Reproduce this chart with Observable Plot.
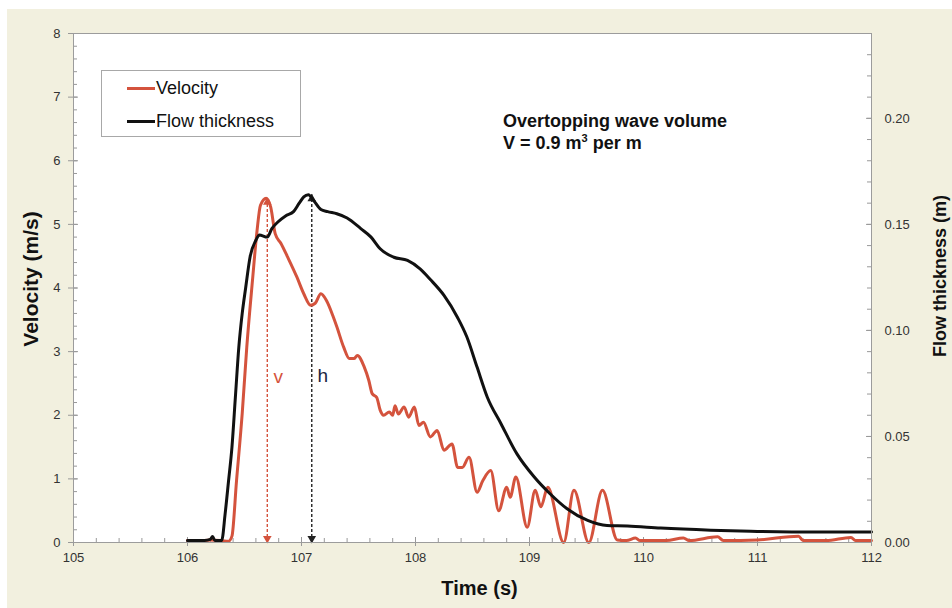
<!DOCTYPE html>
<html><head><meta charset="utf-8">
<script src="https://cdn.jsdelivr.net/npm/d3@7"></script>
<script src="https://cdn.jsdelivr.net/npm/@observablehq/plot@0.6"></script>
<style>
body{margin:0;background:#fff;font-family:"Liberation Sans",Arial,sans-serif;}
#wrap{position:relative;width:952px;height:608px;overflow:hidden}
#bg{position:absolute;left:7px;top:9px;right:0;bottom:0;background:#f2f0df}
#chart{position:absolute;left:0;top:0}
#legend{position:absolute;left:101px;top:70px;width:198px;height:65px;border:1px solid #a8a8a8;background:#fff;font-size:18px;color:#111}
#legend .row{position:absolute;left:25px;height:20px;line-height:20px;white-space:nowrap}
#legend .sw{display:inline-block;width:28px;height:3px;vertical-align:middle;margin-right:1px;position:relative;top:-1px}
#note{position:absolute;left:503px;top:110px;font-weight:bold;font-size:18px;line-height:22px;color:#111;white-space:nowrap}
</style></head>
<body>
<div id="wrap"><div id="bg"></div><div id="chart"></div>
<div id="legend">
 <div class="row" style="top:7px"><span class="sw" style="background:#d4533d"></span>Velocity</div>
 <div class="row" style="top:40px"><span class="sw" style="background:#111"></span>Flow thickness</div>
</div>
<div id="note">Overtopping wave volume<br>V = 0.9 m<sup style="font-size:11px;vertical-align:7px;line-height:0">3</sup> per m</div>
</div>
<script>
// Velocity record (s, m/s)
const timeV = [106.00,106.10,106.20,106.30,106.36,106.39,106.43,106.48,106.52,106.57,106.61,106.64,106.69,106.73,106.77,106.82,106.88,106.96,107.02,107.08,107.12,107.17,107.22,107.28,107.31,107.37,107.42,107.46,107.49,107.55,107.59,107.62,107.66,107.69,107.72,107.77,107.80,107.82,107.85,107.90,107.94,107.99,108.03,108.07,108.13,108.19,108.25,108.32,108.37,108.41,108.47,108.54,108.59,108.66,108.73,108.80,108.83,108.88,108.98,109.05,109.10,109.16,109.30,109.39,109.52,109.64,109.77,109.85,109.93,109.97,110.20,110.35,110.40,110.65,110.70,111.00,111.36,111.40,111.60,111.82,111.86,112.00];
const velocity = [0.03,0.02,0.04,0.03,0.02,0.10,0.97,2.03,3.07,4.12,4.90,5.30,5.41,5.27,4.85,4.70,4.48,4.17,3.91,3.73,3.76,3.91,3.80,3.54,3.39,3.07,2.89,2.89,2.94,2.76,2.55,2.34,2.28,2.08,2.00,2.05,2.00,2.15,2.02,2.13,1.97,2.13,1.84,1.89,1.66,1.76,1.45,1.55,1.18,1.18,1.34,0.79,0.97,1.13,0.50,0.87,0.71,1.03,0.24,0.82,0.56,0.87,0.00,0.82,0.00,0.82,0.04,0.03,0.07,0.03,0.03,0.07,0.03,0.09,0.03,0.04,0.10,0.03,0.03,0.08,0.03,0.03];
// Flow thickness record (s, m)
const timeH = [106.00,106.15,106.20,106.22,106.24,106.30,106.33,106.36,106.39,106.42,106.45,106.48,106.51,106.55,106.60,106.63,106.70,106.74,106.79,106.86,106.93,106.98,107.02,107.06,107.11,107.17,107.23,107.31,107.40,107.52,107.61,107.69,107.81,107.93,108.04,108.13,108.25,108.37,108.45,108.54,108.63,108.75,108.89,109.04,109.18,109.33,109.51,109.68,109.86,110.15,110.59,110.94,111.52,112.00];
const thickness = [0.001,0.001,0.0015,0.0028,0.001,0.001,0.0135,0.029,0.045,0.0685,0.092,0.108,0.120,0.135,0.1425,0.145,0.144,0.148,0.151,0.154,0.156,0.160,0.163,0.164,0.161,0.157,0.156,0.155,0.153,0.148,0.144,0.1385,0.1345,0.133,0.129,0.124,0.1165,0.106,0.097,0.0827,0.0685,0.056,0.0418,0.031,0.023,0.0159,0.0104,0.008,0.0078,0.0068,0.0058,0.0053,0.0049,0.005];
const xTicks = [105,106,107,108,109,110,111,112];
const vTicks = [0,1,2,3,4,5,6,7,8];
const hTicks = [0,0.05,0.10,0.15,0.20];
const ratio = 0.03; // m of thickness per m/s on the shared vertical scale (0.24 m <-> 8 m/s)
const RED = "#d4533d";
const arrowT = [106.70, 107.09];
const arrowTop = [5.41, 0.164/ratio];
const arrowLabel = ["v","h"];
const arrowColor = [RED, "#222"];
const labelColor = [RED, "#1c2541"];

const vel = timeV.map((t,i)=>({t, v: velocity[i]}));
const thick = timeH.map((t,i)=>({t, h: thickness[i]}));
const arrows = arrowT.map((t,i)=>({t, base:0, top:arrowTop[i], label:arrowLabel[i], color:arrowColor[i], lc:labelColor[i]}));
const minorX = d3.range(36).map(i=>105+i*0.2);
const minorV = d3.range(41).map(i=>i*0.2);
const minorH = d3.range(25).map(i=>(i*0.01)/ratio);
const hTickPos = hTicks.map(h=>h/ratio);

const FW = 952-73-81, FH = 608-33-66; // frame size
const TICK = "#999";
const chart = Plot.plot({
  width:952, height:608, marginLeft:73, marginRight:81, marginTop:33, marginBottom:66,
  style:{background:"transparent", fontFamily:"'Liberation Sans',Arial,sans-serif", fontSize:"13px", color:"#333"},
  x:{domain:[105,112]},
  y:{domain:[0,8]},
  marks:[
    Plot.frame({fill:"white"}),
    Plot.ruleX(minorX,{x:d=>d, stroke:TICK, insetTop:FH-4}),
    Plot.ruleX(xTicks,{x:d=>d, stroke:TICK, insetTop:FH-5, insetBottom:-4}),
    Plot.ruleY(minorV,{y:d=>d, stroke:TICK, insetRight:FW-4}),
    Plot.ruleY(vTicks,{y:d=>d, stroke:TICK, insetRight:FW-5, insetLeft:-5}),
    Plot.ruleY(minorH,{y:d=>d, stroke:TICK, insetLeft:FW-4}),
    Plot.ruleY(hTickPos,{y:d=>d, stroke:TICK, insetLeft:FW-5}),
    Plot.axisX(xTicks,{tickSize:0, tickPadding:10, label:null, fill:"#333", fontSize:13, tickFormat:d=>String(d)}),
    Plot.axisY(vTicks,{anchor:"left", tickSize:0, tickPadding:13, label:null, fill:"#333", fontSize:13, tickFormat:d=>String(d)}),
    Plot.axisY(hTickPos,{anchor:"right", tickSize:0, tickPadding:13, label:null, fill:"#333", fontSize:13, tickFormat:d=>(d*ratio).toFixed(2)}),
    Plot.ruleX(arrows,{x:"t", y1:"base", y2:"top", stroke:"color", strokeWidth:1.4, strokeDasharray:"3,2"}),
    Plot.dot(arrows,{x:"t", y:"top", symbol:"triangle", r:3.2, fill:"color", stroke:null, dy:4}),
    Plot.dot(arrows,{x:"t", y:"base", symbol:"triangle", r:3.2, rotate:180, fill:"color", stroke:null, dy:-4}),
    Plot.text(arrows,{x:"t", y:d=>d.top*0.48, text:"label", fill:"lc", dx:11, fontSize:19}),
    Plot.line(vel,{x:"t", y:"v", stroke:RED, strokeWidth:3, curve:"monotone-x"}),
    Plot.line(thick,{x:"t", y:d=>d.h/ratio, stroke:"#111", strokeWidth:3, curve:"monotone-x"}),
    Plot.frame({stroke:"#9c9c9c"}),
    Plot.text(["Velocity (m/s)"],{text:d=>d, frameAnchor:"left", textAnchor:"middle", dx:-42, dy:-9, rotate:-90, fontWeight:"bold", fontSize:21, fill:"#111"}),
    Plot.text(["Flow thickness (m)"],{text:d=>d, frameAnchor:"right", textAnchor:"middle", dx:69, dy:-12, rotate:-90, fontWeight:"bold", fontSize:18, fill:"#111"}),
    Plot.text(["Time (s)"],{text:d=>d, frameAnchor:"bottom", dx:7, dy:52, fontWeight:"bold", fontSize:20, fill:"#111"})
  ]
});
document.getElementById("chart").appendChild(chart);
</script>
</body></html>
